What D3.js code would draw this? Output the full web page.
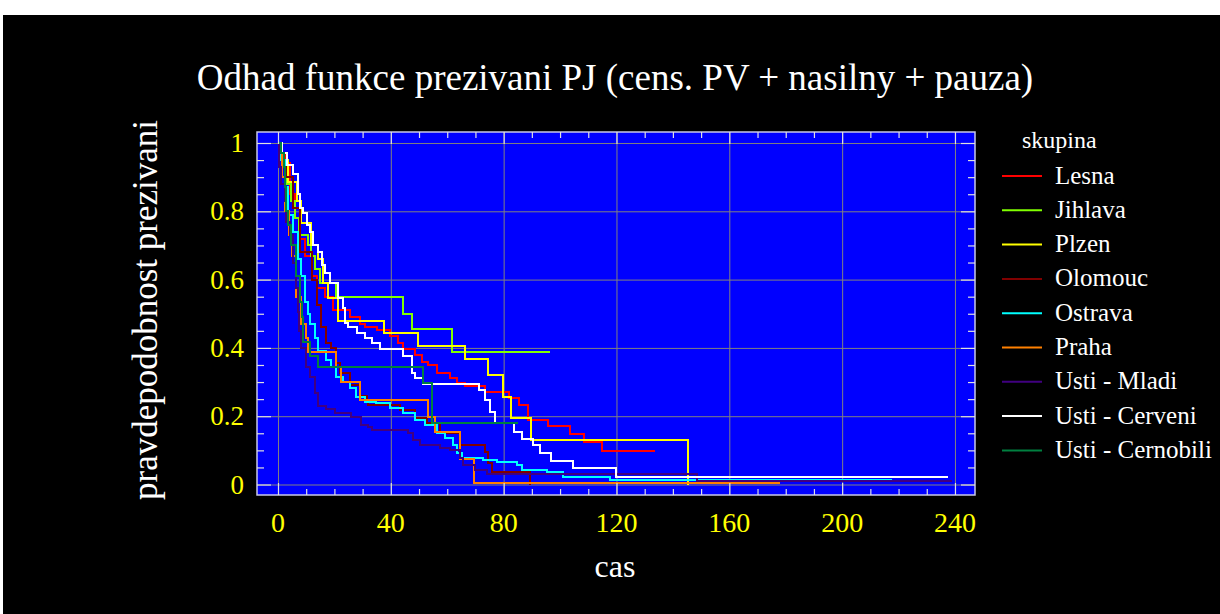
<!DOCTYPE html>
<html>
<head>
<meta charset="utf-8">
<script src="https://cdn.jsdelivr.net/npm/d3@7"></script>
<style>
  body { margin: 0; background: #fff; }
  svg { display: block; font-family: "Liberation Serif", "Times New Roman", serif; }
</style>
</head>
<body>
<svg id="chart" width="1220" height="614"></svg>
<script>
// skupiny a barvy
var groups = ["Lesna", "Jihlava", "Plzen", "Olomouc", "Ostrava", "Praha", "Usti - Mladi", "Usti - Cerveni", "Usti - Cernobili"];
var colors = ["#ff0000", "#80ff00", "#ffff00", "#800000", "#00ffff", "#ff8000", "#400080", "#ffffff", "#008040"];

var xTicks = [0, 40, 80, 120, 160, 200, 240];
var yTicks = [0, 0.2, 0.4, 0.6, 0.8, 1];
var yLabels = ["0", "0.2", "0.4", "0.6", "0.8", "1"];

// odhady [cas, pravdepodobnost]
var lesna = [[0,1],[1,0.97],[2.5,0.94],[4.3,0.85],[6,0.78],[7.8,0.72],[9.6,0.67],[12,0.61],[13.8,0.575],[16.7,0.55],[19.5,0.51],[25.5,0.49],[29,0.47],[30.9,0.46],[35.1,0.452],[39.7,0.435],[42.6,0.414],[44.3,0.397],[48.6,0.38],[51.1,0.36],[53.2,0.35],[56.4,0.326],[61,0.312],[63.5,0.298],[66.3,0.288],[73.4,0.271],[82,0.253],[85.6,0.233],[88.7,0.19],[95.7,0.171],[103.5,0.148],[108.5,0.124],[114.9,0.098],[133.7,0.098]];
var jihlava = [[0,1],[1,0.97],[2,0.93],[3,0.88],[4.5,0.83],[6,0.78],[7.5,0.73],[10.6,0.70],[11.7,0.67],[13,0.63],[15,0.59],[20.6,0.55],[44.4,0.50],[47.5,0.455],[61.8,0.388],[96.5,0.388]];
var plzen = [[0,1],[0.7,0.95],[3.5,0.885],[6.7,0.83],[8.2,0.765],[11.7,0.70],[14.2,0.66],[16,0.59],[17.7,0.545],[21.3,0.48],[37.6,0.443],[49.6,0.405],[66.3,0.367],[74.5,0.32],[79.8,0.256],[82.6,0.195],[89.7,0.13],[145.5,0]];
var olomouc = [[0,1],[1.5,0.94],[3,0.9],[5.3,0.81],[7.8,0.68],[12,0.60],[13.8,0.525],[15.2,0.46],[17,0.414],[18.8,0.40],[20.6,0.355],[22,0.326],[25.5,0.29],[29,0.26],[31.5,0.247],[32,0.233],[43.3,0.218],[48.6,0.195],[52.8,0.18],[57.4,0.15],[64.5,0.115],[73.4,0.096],[74.5,0.063],[76,0.037],[89.4,0]];
var ostrava = [[0,1],[1,0.95],[2.5,0.87],[3.5,0.79],[5.3,0.74],[7,0.66],[8,0.61],[9.6,0.535],[10.6,0.50],[11.3,0.47],[13,0.43],[14.2,0.39],[17,0.365],[18.8,0.345],[20.6,0.315],[23,0.30],[25.5,0.282],[27.6,0.257],[30.9,0.242],[34.8,0.238],[39.7,0.224],[44.3,0.209],[48.6,0.189],[52.1,0.174],[56.4,0.15],[59.2,0.136],[62,0.115],[63.5,0.092],[65.2,0.078],[72.7,0.072],[77.6,0.066],[84.8,0.057],[86.5,0.042],[95.4,0.037],[101,0.022],[117.7,0.013],[217.7,0.013]];
var praha = [[0,1],[1.5,0.9],[2.5,0.8],[4,0.73],[5,0.67],[6.5,0.55],[8.2,0.47],[10,0.43],[10.6,0.388],[20.6,0.344],[22.3,0.30],[29,0.247],[53.2,0.198],[55.7,0.155],[64.5,0.075],[69.6,0.004],[178,0.004]];
var mladi = [[0,1],[0.5,0.93],[1,0.88],[2.5,0.83],[3,0.77],[4.3,0.73],[5.3,0.65],[6.4,0.575],[7.1,0.505],[7.5,0.45],[8.2,0.40],[9.9,0.344],[11.3,0.315],[13,0.268],[14.2,0.23],[17,0.22],[20.2,0.209],[25.9,0.198],[29.4,0.174],[31.9,0.168],[33.3,0.16],[46.1,0.15],[47.9,0.13],[50.4,0.115],[57.4,0.107],[61,0.10],[64.5,0.078],[65.6,0.057],[69.9,0.042],[74.1,0.03],[148.6,0.01],[239,0.01]];
var cerveni = [[0,1],[1.4,0.97],[3.2,0.935],[5.3,0.91],[7.1,0.85],[7.8,0.81],[8.9,0.795],[10.3,0.76],[11.3,0.74],[12.4,0.70],[14.2,0.68],[15.6,0.643],[16.7,0.62],[18.4,0.59],[21.3,0.546],[23,0.517],[23.8,0.473],[24.8,0.461],[28,0.443],[30.9,0.429],[33.3,0.414],[36.2,0.397],[44.4,0.376],[47.5,0.326],[48.6,0.312],[51.4,0.294],[71.3,0.277],[73.4,0.247],[75.2,0.212],[77,0.18],[83.5,0.153],[86.6,0.133],[90.5,0.116],[92.9,0.092],[96.8,0.069],[104.6,0.048],[119.9,0.022],[237.6,0.022]];
var cernobili = [[0,1],[1,0.97],[2,0.93],[2.5,0.87],[3,0.80],[3.5,0.76],[4.5,0.70],[6.5,0.61],[7.8,0.535],[8.5,0.49],[8.9,0.417],[11.3,0.376],[14.2,0.344],[51.4,0.297],[54.6,0.18],[85,0.18]];

var series = [lesna, jihlava, plzen, olomouc, ostrava, praha, mladi, cerveni, cernobili];

var svg = d3.select("#chart");

svg.append("rect")
    .attr("x", 3).attr("y", 15)
    .attr("width", 1217).attr("height", 599)
    .attr("fill", "#000");

var pLeft = 257, pRight = 975, pTop = 132, pBottom = 495;

var x = d3.scaleLinear().domain([-7.44, 247.1]).range([pLeft, pRight]);
var y = d3.scaleLinear().domain([-0.0307, 1.0322]).range([pBottom, pTop]);

var xMinor = d3.range(0, 250, 10).filter(function(d) { return d % 40 != 0; });
var yMinor = d3.range(0, 1.01, 0.05).filter(function(d, i) { return i % 4 != 0; });

svg.append("rect")
    .attr("x", pLeft).attr("y", pTop)
    .attr("width", pRight - pLeft).attr("height", pBottom - pTop)
    .attr("fill", "#0000ff");

// mrizka
svg.append("g")
    .attr("transform", "translate(0," + pBottom + ")")
    .call(d3.axisBottom(x).tickValues(xTicks).tickSize(-(pBottom - pTop)).tickFormat(""))
    .call(function(a) { a.select(".domain").remove(); })
    .selectAll("line").attr("stroke", "#808080").attr("stroke-width", 1);

svg.append("g")
    .attr("transform", "translate(" + pLeft + ",0)")
    .call(d3.axisLeft(y).tickValues(yTicks).tickSize(-(pRight - pLeft)).tickFormat(""))
    .call(function(a) { a.select(".domain").remove(); })
    .selectAll("line").attr("stroke", "#808080").attr("stroke-width", 1);

// krivky
svg.append("clipPath").attr("id", "clip")
  .append("rect")
    .attr("x", pLeft).attr("y", pTop)
    .attr("width", pRight - pLeft).attr("height", pBottom - pTop);

var line = d3.line()
    .x(function(d) { return x(d[0]); })
    .y(function(d) { return y(d[1]); })
    .curve(d3.curveStepAfter);

svg.append("g")
    .attr("clip-path", "url(#clip)")
  .selectAll("path")
    .data(series)
  .enter().append("path")
    .attr("d", line)
    .attr("fill", "none")
    .attr("stroke", function(d, i) { return colors[i]; })
    .attr("stroke-width", 2)
    .attr("shape-rendering", "crispEdges");

// ramecek a carky
svg.append("rect")
    .attr("x", pLeft).attr("y", pTop)
    .attr("width", pRight - pLeft).attr("height", pBottom - pTop)
    .attr("fill", "none")
    .attr("stroke", "#c8c8e8")
    .attr("stroke-width", 1.5);

function ticks(axis, transform, values, size) {
  svg.append("g")
      .attr("transform", transform)
      .call(axis.tickValues(values).tickSize(size).tickFormat(""))
      .call(function(a) { a.select(".domain").remove(); })
      .selectAll("line").attr("stroke", "#e0e0e0").attr("stroke-width", 1.2);
}
ticks(d3.axisBottom(x), "translate(0," + pBottom + ")", xTicks, -12);
ticks(d3.axisBottom(x), "translate(0," + pBottom + ")", xMinor, -6);
ticks(d3.axisTop(x), "translate(0," + pTop + ")", xTicks, -12);
ticks(d3.axisTop(x), "translate(0," + pTop + ")", xMinor, -6);
ticks(d3.axisLeft(y), "translate(" + pLeft + ",0)", yTicks, -14);
ticks(d3.axisLeft(y), "translate(" + pLeft + ",0)", yMinor, -7);
ticks(d3.axisRight(y), "translate(" + pRight + ",0)", yTicks, -14);
ticks(d3.axisRight(y), "translate(" + pRight + ",0)", yMinor, -7);

// popisky os
svg.append("g")
  .selectAll("text")
    .data(xTicks)
  .enter().append("text")
    .attr("x", function(d) { return x(d); })
    .attr("y", 532)
    .attr("text-anchor", "middle")
    .attr("fill", "#ffff00")
    .attr("font-size", "28px")
    .text(function(d) { return d; });

svg.append("g")
  .selectAll("text")
    .data(yTicks)
  .enter().append("text")
    .attr("x", 244)
    .attr("y", function(d) { return y(d) + 9; })
    .attr("text-anchor", "end")
    .attr("fill", "#ffff00")
    .attr("font-size", "27px")
    .text(function(d, i) { return yLabels[i]; });

svg.append("text")
    .attr("x", 615)
    .attr("y", 90)
    .attr("text-anchor", "middle")
    .attr("fill", "#fff")
    .attr("font-size", "37px")
    .text("Odhad funkce prezivani PJ (cens. PV + nasilny + pauza)");

svg.append("text")
    .attr("x", 615)
    .attr("y", 577)
    .attr("text-anchor", "middle")
    .attr("fill", "#fff")
    .attr("font-size", "32px")
    .text("cas");

svg.append("text")
    .attr("transform", "translate(157,310) rotate(-90)")
    .attr("text-anchor", "middle")
    .attr("fill", "#fff")
    .attr("font-size", "35px")
    .text("pravdepodobnost prezivani");

// legenda
var legend = svg.append("g");
legend.append("text")
    .attr("x", 1022)
    .attr("y", 148)
    .attr("fill", "#fff")
    .attr("font-size", "24px")
    .text("skupina");

var item = legend.selectAll(".item")
    .data(groups)
  .enter().append("g")
    .attr("class", "item")
    .attr("transform", function(d, i) { return "translate(0," + (176 + i * 34.3) + ")"; });

item.append("line")
    .attr("x1", 1002).attr("x2", 1042)
    .attr("stroke", function(d, i) { return colors[i]; })
    .attr("stroke-width", 2);

item.append("text")
    .attr("x", 1055)
    .attr("y", 7.5)
    .attr("fill", "#fff")
    .attr("font-size", "25px")
    .text(function(d) { return d; });
</script>
</body>
</html>
